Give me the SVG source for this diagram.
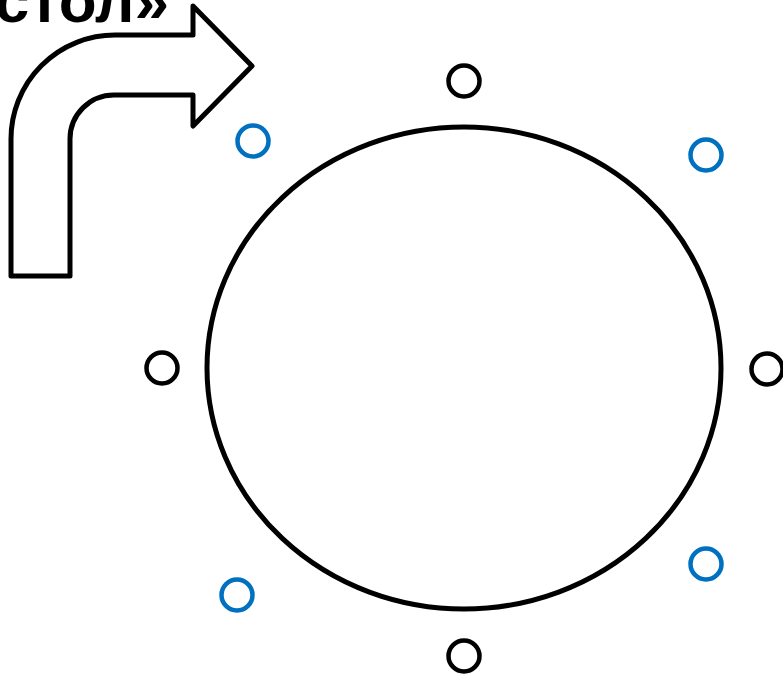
<svg xmlns="http://www.w3.org/2000/svg" width="783" height="677" viewBox="0 0 783 677">
<style>
.ln{fill:none;stroke:#000;stroke-width:5;stroke-linejoin:round}
.blk{fill:none;stroke:#000;stroke-width:4.5}
.blu{fill:none;stroke:#0070C0;stroke-width:4.5}
.t{font-family:"Liberation Sans",Arial,sans-serif;font-weight:bold;font-size:62px;fill:#000}
</style>
<rect width="783" height="677" fill="#fff"/>
<text class="t" x="169" y="22" text-anchor="end">стол»</text>
<g id="arrow">
<path class="ln" d="M11,276 L11,139 A104,104 0 0 1 115,35 L193,35 L193,6 L252,66 L193,126 L193,95 L114,95 A44,44 0 0 0 70,139 L70,276 Z"/>
</g>
<g id="table"><ellipse class="ln" cx="464" cy="368" rx="257" ry="241"/></g>
<g id="seat-top"><circle class="blk" cx="464" cy="81" r="15.5"/></g>
<g id="seat-left"><circle class="blk" cx="162" cy="368" r="15.5"/></g>
<g id="seat-right"><circle class="blk" cx="767" cy="369" r="15.5"/></g>
<g id="seat-bottom"><circle class="blk" cx="464" cy="656" r="15.5"/></g>
<g id="seat-tl"><circle class="blu" cx="253" cy="141" r="15.5"/></g>
<g id="seat-tr"><circle class="blu" cx="706" cy="155" r="15.5"/></g>
<g id="seat-bl"><circle class="blu" cx="237" cy="595" r="15.5"/></g>
<g id="seat-br"><circle class="blu" cx="706" cy="564" r="15.5"/></g>
<g id="connectors"></g>
</svg>
